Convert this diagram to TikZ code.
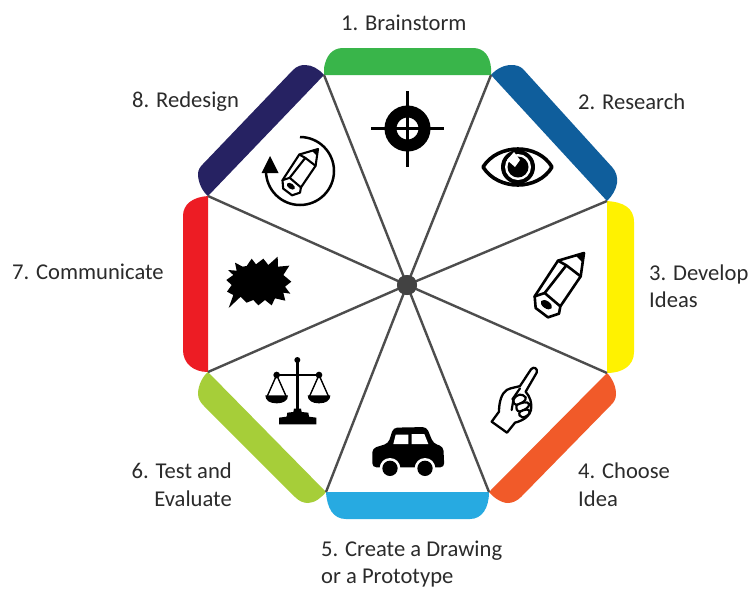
\documentclass[tikz,border=0pt]{standalone}
\usepackage{fontspec}
\setmainfont{Carlito}
\definecolor{bgreen}{HTML}{39B54A}
\definecolor{bblue}{HTML}{0F5E9C}
\definecolor{byellow}{HTML}{FFF200}
\definecolor{borange}{HTML}{F15A29}
\definecolor{bsky}{HTML}{27AAE1}
\definecolor{blime}{HTML}{A6CE39}
\definecolor{bred}{HTML}{ED1C24}
\definecolor{bnavy}{HTML}{262262}
\definecolor{spokec}{HTML}{4D4D4D}
\definecolor{labelc}{HTML}{2B2B2B}
\tikzset{
  spoke/.style={draw=spokec,line width=2.4pt},
  lab/.style={text=labelc,inner sep=0pt,font=\fontsize{22.6}{27.5}\selectfont},
  icon/.style={draw=black,line join=round,line cap=round},
}
\newcommand{\pencilicon}[4]{%
\begin{scope}[shift={(#1,#2)},scale=#3/3,shift={(-178,-25)}]
  \draw[icon,line width=#4,fill=white] (30,155) -- (100,48) -- (178,25) -- (168,95) -- (107,185) -- (103,207) -- (70,218) -- (33,190) -- cycle;
  \draw[icon,line width=#4] (30,155) -- (60,145) -- (107,185);
  \draw[icon,line width=#4] (60,145) -- (125,62) -- (168,95);
  \draw[icon,line width=#4] (100,48) -- (125,62);
  \fill[black] (178,25) -- (153,33) -- (172,52) -- cycle;
  \fill[black,rotate around={-35:(65,180)}] (65,180) ellipse (19 and 11);
\end{scope}}
\begin{document}
\begin{tikzpicture}[x=1pt,y=-1pt]
\useasboundingbox (0,0) rectangle (749,590);
\fill[white] (0,0) rectangle (749,590);
% vertices
\coordinate (v1) at (324,75);
\coordinate (v2) at (491,75);
\coordinate (v3) at (607,201);
\coordinate (v4) at (607,373);
\coordinate (v5) at (489,492);
\coordinate (v6) at (326,492);
\coordinate (v7) at (208,372);
\coordinate (v8) at (208,196);
% bands
\fill[bgreen] (v1) -- (324,68) .. controls (326,56) and (332,48) .. (343,48) -- (473,48) .. controls (484,48) and (490,56) .. (491,68) -- (v2) -- cycle;
\fill[bblue] (v2) .. controls (496,69) and (504,65) .. (511,65) .. controls (516,65) and (520,66) .. (523,69) -- (612,167) .. controls (616,171) and (618,178) .. (617,183) .. controls (616,190) and (612,196) .. (v3) -- cycle;
\fill[byellow] (v3) .. controls (622,202) and (634,207) .. (634,222) -- (634,352) .. controls (634,366) and (622,373) .. (v4) -- cycle;
\fill[borange] (v4) .. controls (612,378) and (616,386) .. (616,394) .. controls (616,399) and (614,402) .. (611,405) -- (521,497) .. controls (517,501) and (512,503) .. (508,503) .. controls (501,503) and (493,497) .. (v5) -- cycle;
\fill[bsky] (v6) .. controls (327,508) and (333,519) .. (346,519) -- (470,519) .. controls (482,519) and (489,508) .. (v5) -- cycle;
\fill[blime] (v7) .. controls (203,376) and (198,385) .. (198,394) .. controls (198,399) and (201,403) .. (204,406) -- (295,497) .. controls (299,501) and (303,503) .. (308,503) .. controls (315,503) and (322,497) .. (v6) -- cycle;
\fill[bred] (v8) .. controls (193,197) and (183,204) .. (183,216) -- (183,350) .. controls (183,363) and (193,372) .. (v7) -- cycle;
\fill[bnavy] (v8) .. controls (202,191) and (198,182) .. (198,174) .. controls (198,170) and (200,167) .. (203,164) -- (293,70) .. controls (297,66) and (301,65) .. (305,65) .. controls (312,65) and (319,69) .. (v1) -- cycle;
% hub and spokes
\node[circle,fill=spokec!85!black,minimum size=20pt,inner sep=0pt] (hub) at (407,285) {};
\foreach \i in {1,...,8} \draw[spoke] (hub.center) -- (v\i);
\fill[spokec!85!black] (hub) circle (10);
% target
\draw[icon,line width=3pt,line cap=butt] (371,128.5) -- (444,128.5);
\draw[icon,line width=3pt,line cap=butt] (407.5,91) -- (407.5,167);
\draw[black,line width=12pt] (407.5,128.5) circle (17);
% eye
\begin{scope}
  \path[clip] (483,167) .. controls (498,143) and (538,143) .. (552,167) .. controls (538,191) and (498,191) .. (483,167) -- cycle;
  \fill[white] (480,140) rectangle (555,195);
  \fill[black] (518,167) circle (17);
  \fill[white] (518,167) circle (13);
  \fill[black] (518,167) circle (10.5);
  \fill[white] (520,160) -- (514,152) -- (507,160) -- (515,167) -- cycle;
\end{scope}
\draw[icon,line width=3.6pt] (483,167) .. controls (498,143) and (538,143) .. (552,167) .. controls (538,191) and (498,191) .. (483,167) -- cycle;
% pencil 3
\pencilicon{584}{253}{1}{2.6pt}
% hand
\begin{scope}[shift={(485,360)},scale=1/3]
  \draw[icon,line width=2.3pt,fill=white] (20,185) -- (42,155) .. controls (42,125) and (50,100) .. (65,90) .. controls (80,82) and (95,82) .. (105,78) -- (138,28) .. controls (145,18) and (160,25) .. (155,38) -- (122,95) .. controls (135,110) and (142,130) .. (138,150) .. controls (135,165) and (120,180) .. (90,188) -- (66,218) -- cycle;
  \draw[icon,line width=2.2pt,fill=white] (85,120) .. controls (95,100) and (112,100) .. (122,112) .. controls (125,122) and (110,130) .. (95,135) .. controls (88,135) and (84,128) .. (85,120) -- cycle;
  \draw[icon,line width=2.2pt,fill=white] (95,135) .. controls (110,128) and (128,122) .. (132,132) .. controls (135,142) and (115,152) .. (105,155) .. controls (96,155) and (92,145) .. (95,135) -- cycle;
  \draw[icon,line width=2.2pt,fill=white] (105,155) .. controls (118,148) and (132,145) .. (134,155) .. controls (134,165) and (120,172) .. (112,172) .. controls (104,172) and (100,162) .. (105,155) -- cycle;
  \draw[icon,line width=2.2pt] (85,120) -- (80,150) (82,118) -- (105,85);
\end{scope}
% car
\begin{scope}[shift={(365,420)},scale=1/3]
  \fill[black,rounded corners=4pt] (22,85) -- (70,70) -- (85,23) -- (185,21) -- (205,70) -- (235,80) -- (238,142) -- (22,142) -- cycle;
  \fill[white] (92,44) -- (130,44) -- (130,72) -- (85,72) -- cycle;
  \fill[white] (140,42) -- (178,42) -- (190,72) -- (140,72) -- cycle;
  \fill[white] (75,145) circle (31);
  \fill[white] (180,145) circle (31);
  \fill[black] (75,145) circle (23);
  \fill[black] (180,145) circle (23);
\end{scope}
% scales
\begin{scope}[shift={(255,350)},scale=1/3]
  \draw[icon,line width=2.6pt] (127,30) -- (127,190);
  \draw[icon,line width=2.6pt] (65,75) -- (192,75);
  \fill[black] (127,30) circle (9);
  \fill[black] (65,75) circle (10);
  \fill[black] (192,75) circle (10);
  \draw[icon,line width=1.4pt] (37,138) -- (65,75) -- (93,138);
  \draw[icon,line width=1.4pt] (164,138) -- (192,75) -- (220,138);
  \fill[black] (31,136) -- (99,136) .. controls (99,152) and (85,160) .. (65,160) .. controls (45,160) and (31,152) .. (31,136) -- cycle;
  \fill[black] (158,136) -- (226,136) .. controls (226,152) and (212,160) .. (192,160) .. controls (172,160) and (158,152) .. (158,136) -- cycle;
  \fill[black] (72,223) -- (72,203) -- (95,200) -- (97,188) -- (115,186) -- (117,176) -- (138,176) -- (140,186) -- (160,188) -- (162,200) -- (184,203) -- (184,223) -- cycle;
\end{scope}
% burst
\begin{scope}[shift={(220,250)},scale=1/3]
  \fill[black] (45,38) -- (68,50) -- (80,48) -- (95,26) -- (108,43) -- (130,26) -- (145,45) -- (173,20) -- (174,50) -- (208,47) -- (190,75) -- (214,95) -- (195,110) -- (211,131) -- (190,128) -- (196,152) -- (165,145) -- (155,166) -- (135,150) -- (115,166) -- (100,150) -- (80,158) -- (62,140) -- (26,174) -- (40,135) -- (21,125) -- (35,105) -- (19,90) -- (40,75) -- (24,60) -- (50,62) -- cycle;
\end{scope}
% pencil 8 with circular arrow
\draw[icon,line width=2.5pt,line cap=butt] (300,137) arc[start angle=-90,end angle=180,radius=34];
\fill[black] (270,156) -- (278.5,173) -- (261.5,173) -- cycle;
\pencilicon{318}{149}{0.72}{2.1pt}
% labels
\node[lab,anchor=west] (l1) at (341,23) {1. Brainstorm};
\node[lab,anchor=west] (l2) at (578,102) {2. Research};
\node[lab,anchor=west,align=left] (l3) at (649,286) {3. Develop\\Ideas};
\node[lab,anchor=west,align=left] (l4) at (578,484.5) {4. Choose\\Idea};
\node[lab,anchor=west,align=left] (l5) at (321,564) {5. Create a Drawing\\or a Prototype};
\node[lab,anchor=east,align=right] (l6) at (232,484.5) {6. Test and\\Evaluate};
\node[lab,anchor=west] (l7) at (12,272) {7. Communicate};
\node[lab,anchor=west] (l8) at (132,102) {8. Redesign};
\end{tikzpicture}
\end{document}
